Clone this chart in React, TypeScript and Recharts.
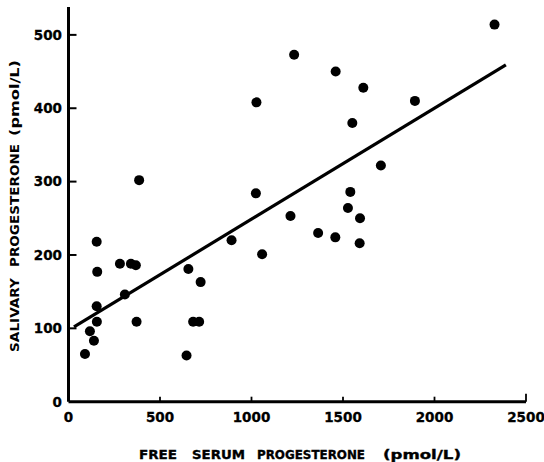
import React from 'react';
import { ScatterChart, Scatter, XAxis, YAxis, ReferenceLine, Label } from 'recharts';

const freeSerum = [90, 117, 139, 154, 155, 154, 157, 281, 308, 341, 368, 372, 386, 645, 655, 681, 714, 722, 891, 1024, 1027, 1058, 1213, 1233, 1364, 1458, 1460, 1527, 1540, 1551, 1593, 1591, 1611, 1707, 1893, 2328];
const salivary = [65, 96, 83, 130, 109, 218, 177, 188, 146, 188, 186, 109, 302, 63, 181, 109, 109, 163, 220, 284, 408, 201, 253, 473, 230, 224, 450, 264, 286, 380, 250, 216, 428, 322, 410, 514];
const xTicks = [0, 500, 1000, 1500, 2000, 2500];
const yTicks = [0, 100, 200, 300, 400, 500];
const fitX = [30, 2390];
const fitY = [102, 459];
const xTitleWords = ['FREE', 'SERUM', 'PROGESTERONE', '(pmol/L)'];
const yTitleWords = ['SALIVARY', 'PROGESTERONE', '(pmol/L)'];

const xTitleLayout = [
  { c: 158, len: 38 },
  { c: 218.5, len: 53 },
  { c: 311, len: 108 },
  { c: 422, len: 78 },
];
const yTitleLayout = [
  { c: 315, len: 74 },
  { c: 205.5, len: 123 },
  { c: 98, len: 76 },
];

const points = freeSerum.map((x, i) => ({ x, y: salivary[i] }));
const fitSegment = fitX.map((x, i) => ({ x, y: fitY[i] }));

const FONT = '"DejaVu Sans", Arial, sans-serif';

const YTick = (props: any) => {
  const { x, y, payload } = props;
  return (
    <g>
      {payload.value !== 0 && (
        <line x1={x} y1={y} x2={x + 8} y2={y} stroke="#000" strokeWidth={2} />
      )}
      <text x={x - 6.5} y={y} dy="0.36em" textAnchor="end" fontFamily={FONT} fontWeight="bold" fontSize={13.5} fill="#000" stroke="#000" strokeWidth={0.3}>
        {payload.value}
      </text>
    </g>
  );
};

const XTick = (props: any) => {
  const { x, y, payload } = props;
  const len = payload.value === 2500 ? 8 : payload.value === 0 ? 0 : 5;
  return (
    <g>
      {len > 0 && <line x1={x} y1={y} x2={x} y2={y - len} stroke="#000" strokeWidth={1.8} />}
      <text x={x} y={y + 20} textAnchor="middle" fontFamily={FONT} fontWeight="bold" fontSize={13.5} fill="#000" stroke="#000" strokeWidth={0.3}>
        {payload.value}
      </text>
    </g>
  );
};

const Dot = (props: any) => {
  const { cx, cy } = props;
  return <circle cx={cx} cy={cy} r={5} fill="#000" />;
};

export default function App() {
  return (
    <div style={{ position: 'absolute', left: 0, top: 0, background: '#fff' }}>
      <ScatterChart width={544} height={462} margin={{ top: 7, right: 18, bottom: 0.3, left: 0.5 }}>
        <XAxis
          type="number"
          dataKey="x"
          domain={[0, 2500]}
          ticks={xTicks}
          height={60}
          tickSize={0}
          tickMargin={0}
          tickLine={false}
          axisLine={{ stroke: '#000', strokeWidth: 3 }}
          tick={<XTick />}
          interval={0}
        >
          <Label
            content={() => (
              <g>
                {xTitleWords.map((w, i) => (
                  <text key={w + i} x={xTitleLayout[i].c} y={458.5} textAnchor="middle" fontFamily={FONT} fontWeight="bold" fontSize={12} textLength={xTitleLayout[i].len} lengthAdjust="spacingAndGlyphs" fill="#000" stroke="#000" strokeWidth={0.35}>
                    {w}
                  </text>
                ))}
              </g>
            )}
          />
        </XAxis>
        <YAxis
          type="number"
          dataKey="y"
          domain={[0, 538]}
          ticks={yTicks}
          width={68}
          tickSize={0}
          tickMargin={0}
          tickLine={false}
          axisLine={{ stroke: '#000', strokeWidth: 3 }}
          tick={<YTick />}
          interval={0}
        >
          <Label
            content={() => (
              <g>
                {yTitleWords.map((w, i) => (
                  <text key={w + i} x={0} y={0} transform={`translate(18.5,${yTitleLayout[i].c}) rotate(-90)`} textAnchor="middle" fontFamily={FONT} fontWeight="bold" fontSize={12} textLength={yTitleLayout[i].len} lengthAdjust="spacingAndGlyphs" fill="#000">
                    {w}
                  </text>
                ))}
              </g>
            )}
          />
        </YAxis>
        <ReferenceLine segment={fitSegment} stroke="#000" strokeWidth={3.2} ifOverflow="visible" />
        <Scatter data={points} shape={<Dot />} isAnimationActive={false} />
      </ScatterChart>
    </div>
  );
}
